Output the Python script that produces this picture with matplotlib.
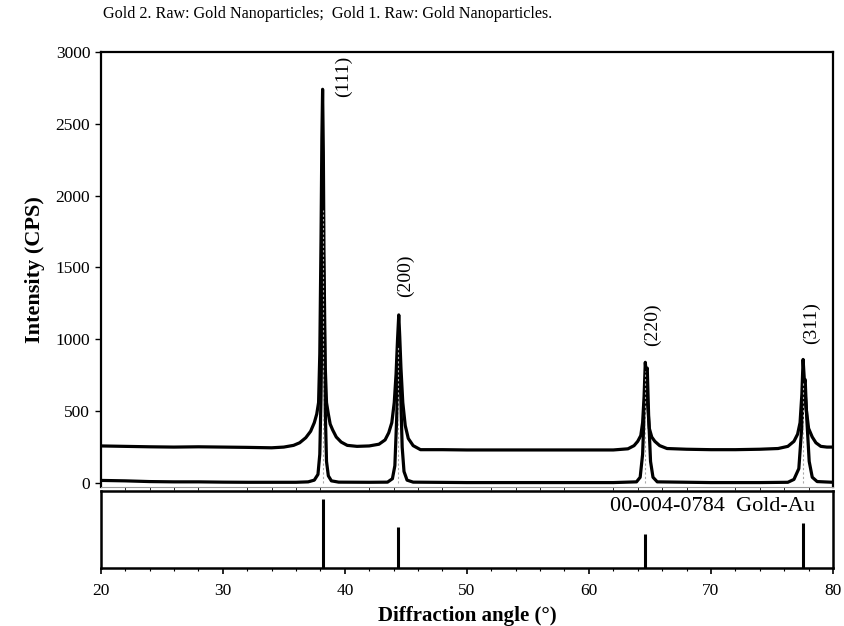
import matplotlib.pyplot as plt
from matplotlib.ticker import MultipleLocator

plt.rcParams["font.family"] = ["Liberation Serif", "DejaVu Serif"]

# Gold 2 (upper trace, raised baseline)
gold2_x = [20, 22, 24, 26, 28, 30, 32, 34, 35, 35.8, 36.3, 36.8, 37.2, 37.5,
           37.7, 37.85, 37.95, 38.05, 38.12, 38.18, 38.24, 38.3, 38.4, 38.5,
           38.65, 38.8, 39.0, 39.3, 39.7, 40.2, 41, 42, 42.8, 43.3, 43.6,
           43.85, 44.05, 44.2, 44.32, 44.42, 44.5, 44.6, 44.75, 44.95, 45.2,
           45.6, 46.2, 48, 50, 52, 54, 56, 58, 60, 62, 63.2, 63.7, 64.0,
           64.25, 64.4, 64.52, 64.62, 64.7, 64.8, 64.95, 65.15, 65.4, 65.8,
           66.4, 68, 70, 72, 74, 75.5, 76.3, 76.8, 77.1, 77.3, 77.45, 77.55,
           77.65, 77.8, 78.0, 78.3, 78.6, 79.0, 79.5, 80]
gold2_y = [258, 255, 252, 250, 252, 250, 248, 245, 250, 262, 280, 315, 360, 420,
           480, 560, 900, 1700, 2400, 2740, 2300, 1500, 800, 560,
           480, 410, 370, 320, 285, 262, 255, 258, 270, 300, 350,
           420, 560, 760, 1000, 1170, 1020, 800, 560, 400, 310,
           260, 232, 232, 230, 230, 230, 230, 230, 230, 230, 238, 260, 290,
           330, 420, 600, 840, 760, 560, 380, 320, 290, 260,
           240, 235, 232, 232, 235, 240, 255, 290, 340, 420, 620, 860,
           720, 520, 380, 320, 280, 255, 250, 250]

# Gold 1 (lower trace)
gold1_x = [20, 22, 24, 26, 28, 30, 32, 34, 36, 37.0, 37.5, 37.8, 37.95, 38.05,
           38.15, 38.22, 38.3, 38.4, 38.5, 38.65, 38.9, 39.5, 42, 43.5, 43.9,
           44.1, 44.25, 44.38, 44.45, 44.55, 44.7, 44.85, 45.1, 45.6, 50, 55,
           60, 62, 63.9, 64.2, 64.4, 64.55, 64.68, 64.78, 64.9, 65.05, 65.25,
           65.6, 70, 74, 76.3, 76.8, 77.2, 77.45, 77.6, 77.72, 77.85, 78.05,
           78.3, 78.7, 80]
gold1_y = [18, 15, 10, 8, 8, 6, 5, 5, 5, 8, 20, 60, 200, 600,
           1300, 1750, 1300, 500, 150, 50, 15, 6, 5, 6, 30,
           120, 450, 820, 960, 700, 250, 80, 20, 6, 3, 3,
           3, 3, 8, 40, 200, 550, 780, 800, 450, 150, 40,
           8, 3, 3, 5, 25, 100, 400, 680, 720, 450, 150,
           40, 10, 5]

# reference pattern 00-004-0784 Gold-Au
ref_pos = [38.18, 44.39, 64.58, 77.55]
ref_int = [89, 53, 44, 58]
dotted_top = [1900, 950, 780, 700]

peak_labels = ["(111)", "(200)", "(220)", "(311)"]
label_x = [39.85, 44.95, 65.2, 78.2]
label_y = [2830, 1440, 1100, 1110]

fig = plt.figure(figsize=(8.45, 6.26), dpi=100)
ax = fig.add_axes([0.1192, 0.222, 0.8666, 0.695])
axr = fig.add_axes([0.1192, 0.0927, 0.8666, 0.123], sharex=ax)

ax.plot(gold2_x, gold2_y, color="black", lw=2.3, zorder=3)
ax.plot(gold1_x, gold1_y, color="black", lw=2.3, zorder=3)
ax.vlines(ref_pos, 0, dotted_top, colors="#aaaaaa", linestyles=(0, (2, 2)),
          lw=0.8, zorder=4)

for lab, lx, ly in zip(peak_labels, label_x, label_y):
    ax.text(lx, ly, lab, rotation=90, ha="center", va="center", fontsize=14)

ax.set_xlim(20, 80)
ax.set_ylim(-28, 3000)
ax.set_yticks(range(0, 3001, 500))
ax.tick_params(axis="y", direction="out", length=4, width=1, labelsize=12.5)
ax.tick_params(axis="x", bottom=False, labelbottom=False)
for side in ("top", "right", "left"):
    ax.spines[side].set_linewidth(1.6)
ax.spines["bottom"].set_color("#999999")
ax.spines["bottom"].set_linewidth(0.8)
ax.set_ylabel("Intensity (CPS)", fontsize=16, fontweight="bold", labelpad=8)

fig.text(0.122, 0.977, "Gold 2. Raw: Gold Nanoparticles;  Gold 1. Raw: Gold Nanoparticles.",
         fontsize=11.6, ha="left", va="center")

axr.vlines(ref_pos, 0, ref_int, colors="black", lw=2.2)
axr.set_ylim(0, 100)
axr.set_yticks([])
axr.xaxis.set_major_locator(MultipleLocator(10))
axr.xaxis.set_minor_locator(MultipleLocator(2))
axr.tick_params(axis="x", which="major", direction="out", length=4, width=1.2,
                labelsize=12.5, pad=7)
axr.tick_params(axis="x", which="minor", direction="out", length=2, width=0.8)
for side in axr.spines.values():
    side.set_linewidth(1.8)
axr.text(0.975, 0.8, "00-004-0784  Gold-Au", transform=axr.transAxes,
         ha="right", va="center", fontsize=16)
axr.set_xlabel("Diffraction angle (°)", fontsize=15, fontweight="bold",
               labelpad=5)

fig.savefig("out.png", dpi=100)
